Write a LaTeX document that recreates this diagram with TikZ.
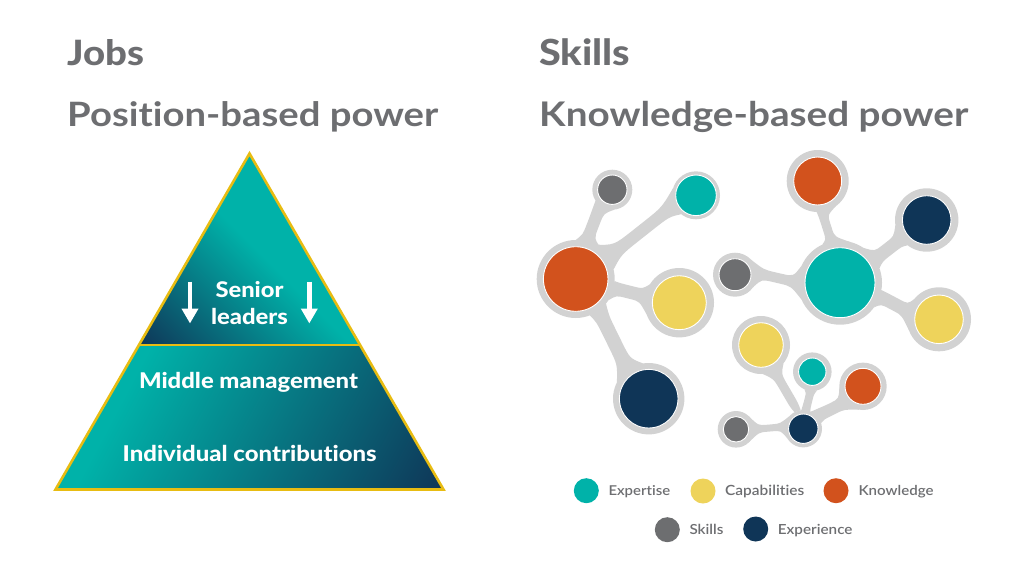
\documentclass[tikz,border=0pt]{standalone}
\usepackage{fontspec}
\usepackage{graphicx}
\setmainfont[RawFeature=-liga]{Lato}
\newfontfamily\headheavy[FakeStretch=1.1,RawFeature=-liga]{Lato Heavy}
\newfontfamily\headbold[FakeStretch=1.14,RawFeature=-liga]{Lato Bold}
\newfontfamily\legfont[FakeStretch=1.1,RawFeature=-liga]{Lato Semibold}
\usetikzlibrary{calc,arrows.meta}
\definecolor{cteal}{HTML}{00B2A9}
\definecolor{cyellow}{HTML}{EED35B}
\definecolor{corange}{HTML}{D2521D}
\definecolor{cnavy}{HTML}{0F3557}
\definecolor{cgrey}{HTML}{6D6E70}
\definecolor{chalo}{HTML}{D2D2D2}
\definecolor{cgold}{HTML}{E8BC12}
\definecolor{ctext}{HTML}{6D6E71}
\pgfdeclarehorizontalshading{topgrad}{520bp}{color(0bp)=(cnavy); color(150bp)=(cteal); color(420bp)=(cteal)}
\pgfdeclarehorizontalshading{lowgrad}{700bp}{color(0bp)=(cnavy); color(325bp)=(cteal); color(520bp)=(cteal)}
\newcommand\fitw[2]{\resizebox{#1pt}{!}{#2}}
\newcommand\hl[4]{\node[halo,minimum size=#4*2pt] (#1) at (#2,#3) {};}
\newcommand\dt[3]{\node[disc,fill=#3,minimum size=#2*2pt] (d#1) at (#1) {};}
% gooey link: a, angle a, spread a, b, angle b, spread b, half-waist, bend
\newcommand\lk[8]{%
  \pgfmathsetmacro\apos{#2+#3}\pgfmathsetmacro\aneg{#2-#3}%
  \pgfmathsetmacro\bpos{#5+#6}\pgfmathsetmacro\bneg{#5-#6}%
  \pgfmathsetmacro\ol{#8+#7}\pgfmathsetmacro\orr{#8-#7}%
  \fill[chalo] (#1.\apos)
    .. controls ($(#1.#2)!0.14!(#4.#5)!\ol pt!90:(#4.#5)$) .. ($(#1.#2)!0.42!(#4.#5)!\ol pt!90:(#4.#5)$)
    -- ($(#1.#2)!0.58!(#4.#5)!\ol pt!90:(#4.#5)$)
    .. controls ($(#1.#2)!0.86!(#4.#5)!\ol pt!90:(#4.#5)$) .. (#4.\bneg)
    -- (#4.\bpos)
    .. controls ($(#1.#2)!0.86!(#4.#5)!\orr pt!90:(#4.#5)$) .. ($(#1.#2)!0.58!(#4.#5)!\orr pt!90:(#4.#5)$)
    -- ($(#1.#2)!0.42!(#4.#5)!\orr pt!90:(#4.#5)$)
    .. controls ($(#1.#2)!0.14!(#4.#5)!\orr pt!90:(#4.#5)$) .. (#1.\aneg)
    -- cycle;}
\tikzset{
  halo/.style={circle,fill=chalo,inner sep=0pt,outer sep=0pt},
  disc/.style={circle,draw=white,line width=0.9pt,inner sep=0pt,outer sep=0pt},
  legdot/.style={circle,inner sep=0pt,outer sep=0pt,minimum size=25pt},
  titleb/.style={anchor=base west,inner sep=0pt,text=ctext,font=\headheavy\fontsize{36}{36}\selectfont},
  titles/.style={anchor=base west,inner sep=0pt,text=ctext,font=\headbold\fontsize{36}{36}\selectfont},
  onpyr/.style={anchor=base,inner sep=0pt,text=white,font=\headheavy\fontsize{22}{22}\selectfont},
  legtxt/.style={anchor=base west,inner sep=0pt,text=ctext,font=\legfont\fontsize{14}{14}\selectfont},
  downarrow/.style={white,line width=4.6pt,-{Triangle[length=15pt,width=16pt]}},
  goldline/.style={cgold,line width=2.6pt,miter limit=10}
}
\begin{document}
\begin{tikzpicture}[x=1pt,y=-1pt]
\useasboundingbox (0,0) rectangle (1024,576);
% titles
\node[titleb] (t1) at (67,65) {\fitw{77}{Jobs}};
\node[titles] (t2) at (67,126) {\fitw{371}{Position-based power}};
\node[titleb] (t3) at (539,65) {\fitw{91}{Skills}};
\node[titles] (t4) at (539,126) {\fitw{429}{Knowledge-based power}};
% pyramid
\coordinate (ap) at (249.5,153.5);
\coordinate (bl) at (55.5,489.5);
\coordinate (br) at (443.5,489.5);
\coordinate (ml) at (139,345);
\coordinate (mr) at (360,345);
\begin{scope}
  \clip (ap) -- (ml) -- (mr) -- cycle;
  \node[inner sep=0pt,outer sep=0pt,rotate=45,anchor=west] (gtop) at (ml) {\pgfuseshading{topgrad}};
\end{scope}
\begin{scope}
  \clip (ml) -- (mr) -- (br) -- (bl) -- cycle;
  \node[inner sep=0pt,outer sep=0pt,rotate=152,anchor=west] (glow) at (br) {\pgfuseshading{lowgrad}};
\end{scope}
\draw[goldline] (ap) -- (bl) -- (br) -- cycle;
\draw[goldline,line width=2pt] (ml) -- (mr);
\coordinate (a1s) at (190,281.7); \coordinate (a1e) at (190,323.5);
\coordinate (a2s) at (309.3,281.7); \coordinate (a2e) at (309.3,323.5);
\draw[downarrow] (a1s) -- (a1e);
\draw[downarrow] (a2s) -- (a2e);
\node[onpyr] (p1) at (249.5,297.5) {\fitw{68}{Senior}};
\node[onpyr] (p2) at (249.5,324.5) {\fitw{77}{leaders}};
\node[onpyr] (p3) at (248.5,388) {\fitw{219}{Middle management}};
\node[onpyr] (p4) at (249.7,461.7) {\fitw{254}{Individual contributions}};
% halos
\hl{ko}{575.7}{279}{39}
\hl{kg}{612.3}{189.7}{20}
\hl{kt}{696}{195.3}{24}
\hl{ky}{679.3}{302.7}{34.7}
\hl{kn}{648.7}{398.7}{35.7}
\hl{ro}{817.7}{181}{31}
\hl{rn}{926.7}{220}{31.7}
\hl{rt}{840}{282.7}{42}
\hl{rg}{735}{274.7}{22}
\hl{ry}{939}{319.3}{32}
\hl{by}{761}{345}{29}
\hl{bt}{812.3}{371.7}{19.3}
\hl{bo}{863}{386.3}{23.7}
\hl{bn}{803.3}{428.7}{18.7}
\hl{bg}{736}{429.3}{18.3}
% links
\lk{ko}{68}{22}{kg}{245}{32}{6}{4}
\lk{ko}{38}{24}{kt}{197}{35}{6}{-3}
\lk{ko}{-18}{15}{ky}{174}{26}{6.5}{3}
\lk{ko}{-54}{15}{kn}{126}{27}{7}{0}
\lk{rt}{95}{20}{ro}{-73}{19}{4.5}{5}
\lk{rt}{38}{18}{rn}{211}{22}{6.5}{-3}
\lk{rt}{-23}{13}{ry}{171}{30}{6.5}{3}
\lk{rt}{180}{24}{rg}{4}{39}{5}{0}
\lk{bn}{108}{10}{by}{-63}{24}{4.5}{0}
\lk{bn}{82}{14}{bt}{-95}{19}{4}{0}
\lk{bn}{42}{24}{bo}{222}{39}{6}{0}
\lk{bn}{174}{37}{bg}{0}{47}{3.5}{0}
% discs
\dt{ko}{32.3}{corange}
\dt{kg}{14.7}{cgrey}
\dt{kt}{20.3}{cteal}
\dt{ky}{27}{cyellow}
\dt{kn}{29.3}{cnavy}
\dt{ro}{24}{corange}
\dt{rn}{24.3}{cnavy}
\dt{rt}{35}{cteal}
\dt{rg}{16}{cgrey}
\dt{ry}{24.3}{cyellow}
\dt{by}{22.3}{cyellow}
\dt{bt}{13.7}{cteal}
\dt{bo}{18}{corange}
\dt{bn}{14.7}{cnavy}
\dt{bg}{12.7}{cgrey}
% legend
\node[legdot,fill=cteal] (l1) at (586.3,490.7) {};
\node[legdot,fill=cyellow] (l2) at (703,491) {};
\node[legdot,fill=corange] (l3) at (836,490.7) {};
\node[legdot,fill=cgrey] (l4) at (667.3,529.7) {};
\node[legdot,fill=cnavy] (l5) at (755.7,529) {};
\node[legtxt] (x1) at (608.3,495) {\fitw{61.7}{Expertise}};
\node[legtxt] (x2) at (725,495) {\fitw{79}{Capabilities}};
\node[legtxt] (x3) at (858.3,495) {\fitw{75}{Knowledge}};
\node[legtxt] (x4) at (689.3,534) {\fitw{34}{Skills}};
\node[legtxt] (x5) at (777.7,534) {\fitw{74.6}{Experience}};
\end{tikzpicture}
\end{document}
